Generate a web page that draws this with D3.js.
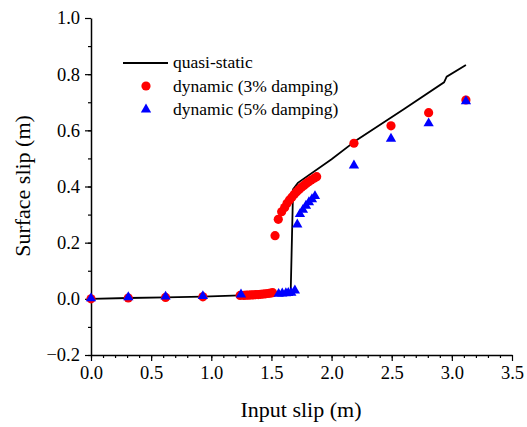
<!DOCTYPE html>
<meta charset="utf-8">
<style>
    body { margin: 0; background: #fff; }
    svg text { font-family: "Liberation Serif", "Times New Roman", serif !important; fill: #000; }
</style>
<body>
<div id="chart"></div>
<script src="https://d3js.org/d3.v7.min.js"></script>
<script>
  // quasi-static curve
  var quasiX = [0, 0.31, 0.62, 0.93, 1.24, 1.5, 1.66, 1.68, 1.72, 2.0, 2.21, 2.6, 2.935, 2.957, 3.117];
  var quasiY = [0, 0.003, 0.005, 0.008, 0.012, 0.016, 0.02, 0.39, 0.413, 0.497, 0.566, 0.675, 0.771, 0.791, 0.833];

  // dynamic, 3% damping
  var damp3X = [0, 0.31, 0.62, 0.93, 1.24, 1.27, 1.29, 1.31, 1.33, 1.35, 1.37, 1.39, 1.41, 1.43, 1.45, 1.47, 1.49, 1.51,
    1.53, 1.557, 1.585, 1.61, 1.63, 1.65, 1.67, 1.69, 1.71, 1.73, 1.75, 1.77, 1.79, 1.81, 1.83, 1.855, 1.876,
    2.186, 2.494, 2.807, 3.117];
  var damp3Y = [0, 0.003, 0.005, 0.007, 0.012, 0.012, 0.013, 0.013, 0.014, 0.014, 0.015, 0.015, 0.016, 0.017, 0.018, 0.019, 0.02, 0.022,
    0.225, 0.283, 0.31, 0.325, 0.34, 0.352, 0.362, 0.372, 0.381, 0.389, 0.397, 0.404, 0.411, 0.417, 0.423, 0.429, 0.435,
    0.554, 0.616, 0.663, 0.708];

  // dynamic, 5% damping
  var damp5X = [0, 0.31, 0.62, 0.93, 1.247, 1.56, 1.59, 1.62, 1.64, 1.665, 1.695,
    1.715, 1.737, 1.762, 1.787, 1.812, 1.837, 1.862,
    2.186, 2.494, 2.807, 3.117];
  var damp5Y = [0, 0.004, 0.006, 0.008, 0.014, 0.016, 0.017, 0.018, 0.019, 0.02, 0.028,
    0.263, 0.3, 0.315, 0.33, 0.342, 0.353, 0.364,
    0.473, 0.568, 0.623, 0.702];

  var xTicks = [0, 0.5, 1.0, 1.5, 2.0, 2.5, 3.0, 3.5];
  var yTicks = [-0.2, 0, 0.2, 0.4, 0.6, 0.8, 1.0];
  var legendLabels = ["quasi-static", "dynamic (3% damping)", "dynamic (5% damping)"];

  var serif = "'Liberation Serif', 'Times New Roman', serif";
  var W = 527, H = 427;
  var svg = d3.select("#chart").append("svg").attr("width", W).attr("height", H)
    .style("font-family", serif);

  var x = d3.scaleLinear().domain([0, 3.5]).range([91, 512]);
  var y = d3.scaleLinear().domain([-0.2, 1.0]).range([355, 18]);

  // minor ticks
  svg.append("g")
    .attr("transform", "translate(0,355)")
    .call(d3.axisBottom(x).tickValues(d3.range(0, 35).map(function (i) { return i / 10; })).tickSize(3).tickFormat(""))
    .call(function (g) { g.select(".domain").remove(); g.selectAll("line").attr("stroke-width", 1.2); });
  svg.append("g")
    .attr("transform", "translate(91,0)")
    .call(d3.axisLeft(y).tickValues(d3.range(-2, 10).map(function (i) { return i / 10; })).tickSize(3).tickFormat(""))
    .call(function (g) { g.select(".domain").remove(); g.selectAll("line").attr("stroke-width", 1.2); });

  // major axes
  var xAxis = svg.append("g")
    .attr("transform", "translate(0,355)")
    .call(d3.axisBottom(x).tickValues(xTicks).tickSize(6).tickSizeOuter(0).tickPadding(5).tickFormat(d3.format(".1f")));
  var yAxis = svg.append("g")
    .attr("transform", "translate(91,0)")
    .call(d3.axisLeft(y).tickValues(yTicks).tickSize(6).tickSizeOuter(0).tickPadding(5).tickFormat(d3.format(".1f")));
  [xAxis, yAxis].forEach(function (g) {
    g.attr("font-family", null).attr("font-size", null);
    g.select(".domain").attr("stroke-width", 1.5);
    g.selectAll("line").attr("stroke-width", 1.2);
    g.selectAll("text").style("font-size", "18.5px").style("font-family", serif);
  });

  // axis titles
  svg.append("text")
    .attr("x", 301).attr("y", 417)
    .attr("text-anchor", "middle")
    .style("font-size", "22px")
    .text("Input slip (m)");
  svg.append("text")
    .attr("transform", "translate(30,186) rotate(-90)")
    .attr("text-anchor", "middle")
    .style("font-size", "22px")
    .text("Surface slip (m)");

  // quasi-static line
  var line = d3.line().x(function (d) { return x(d[0]); }).y(function (d) { return y(d[1]); });
  svg.append("path")
    .datum(d3.zip(quasiX, quasiY))
    .attr("d", line)
    .attr("fill", "none")
    .attr("stroke", "#000")
    .attr("stroke-width", 1.8);

  // 3% damping circles
  svg.append("g").selectAll("circle")
    .data(d3.zip(damp3X, damp3Y))
    .enter().append("circle")
    .attr("cx", function (d) { return x(d[0]); })
    .attr("cy", function (d) { return y(d[1]); })
    .attr("r", 4.6)
    .attr("fill", "#ff0000");

  // 5% damping triangles
  var tri = d3.symbol().type(d3.symbolTriangle).size(46);
  svg.append("g").selectAll("path")
    .data(d3.zip(damp5X, damp5Y))
    .enter().append("path")
    .attr("d", tri)
    .attr("transform", function (d) { return "translate(" + x(d[0]) + "," + (y(d[1]) - 0.5) + ")"; })
    .attr("fill", "#0000ff");

  // legend
  var lg = svg.append("g");
  lg.append("line").attr("x1", 123).attr("x2", 168).attr("y1", 63).attr("y2", 63)
    .attr("stroke", "#000").attr("stroke-width", 1.8);
  lg.append("circle").attr("cx", 146).attr("cy", 86).attr("r", 4.6).attr("fill", "#ff0000");
  lg.append("path").attr("d", tri).attr("transform", "translate(146,109.5)").attr("fill", "#0000ff");
  lg.selectAll("text").data(legendLabels).enter().append("text")
    .attr("x", 173)
    .attr("y", function (d, i) { return 62.5 + i * 23.5; })
    .attr("dy", "0.33em")
    .style("font-size", "17.5px")
    .text(function (d) { return d; });
</script>
</body>
